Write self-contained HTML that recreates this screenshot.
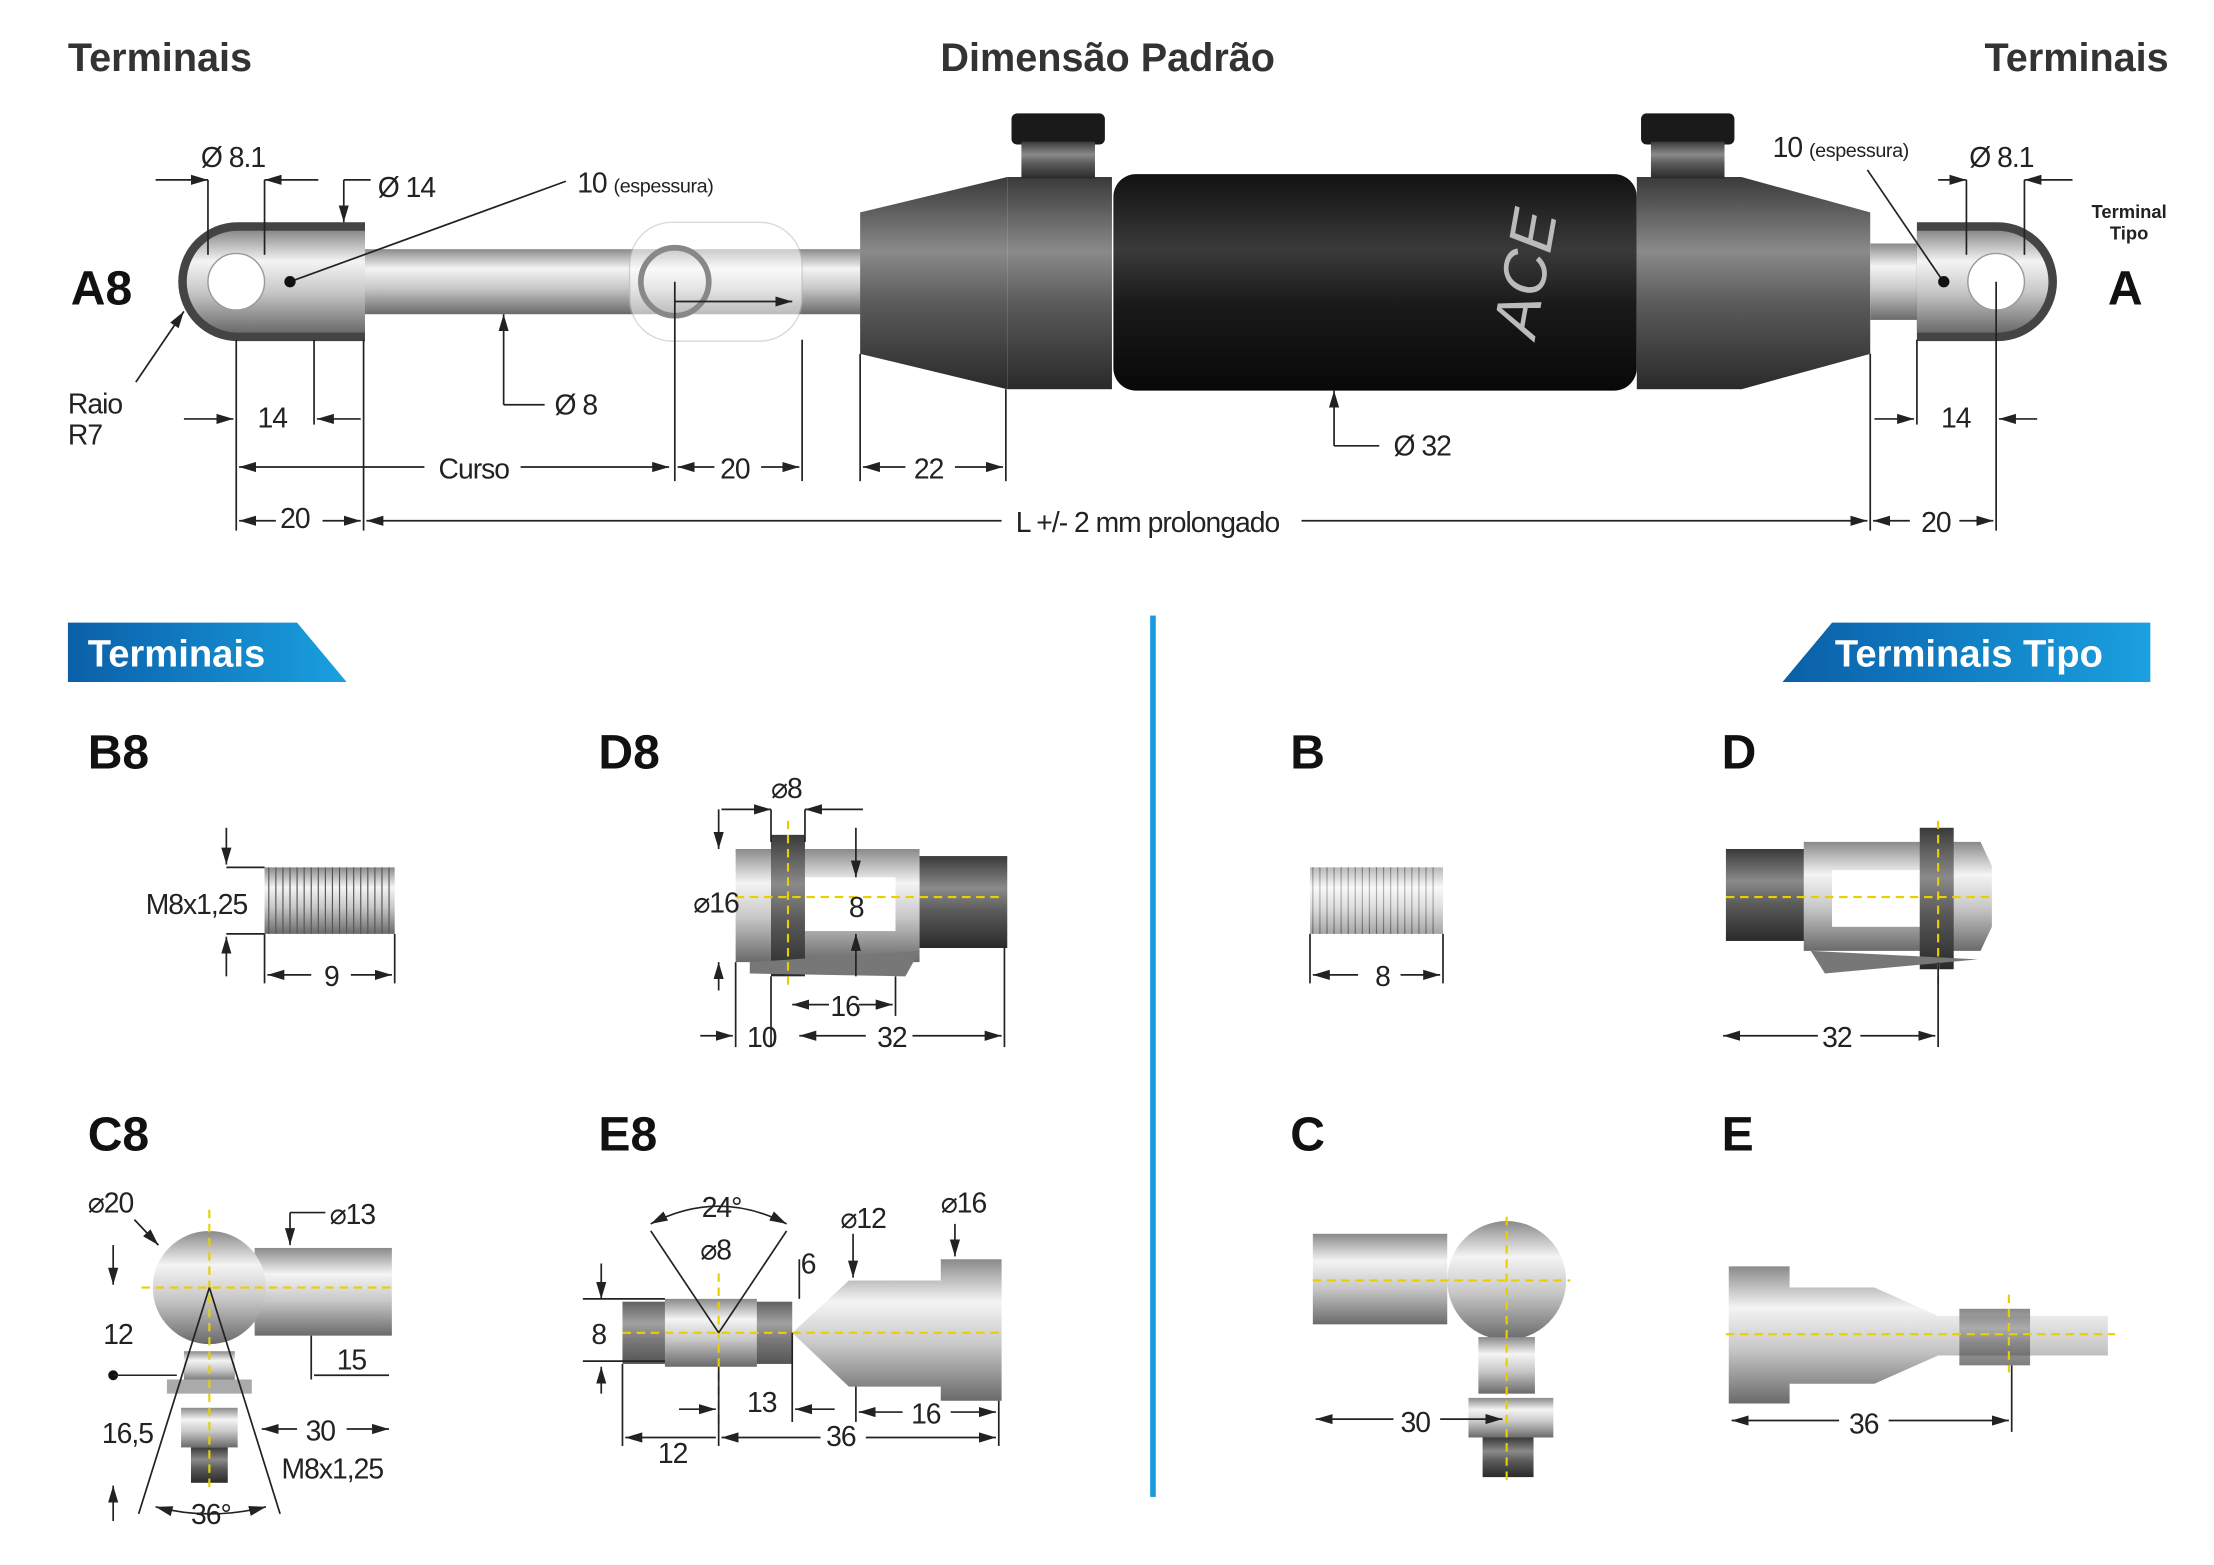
<!DOCTYPE html>
<html><head><meta charset="utf-8"><style>
html,body{margin:0;padding:0;background:#fff}
svg{display:block}
text{font-family:"Liberation Sans",sans-serif}
.n{font-size:20px;letter-spacing:-0.7px;fill:#222}
.s{font-size:14px;letter-spacing:-0.3px}
.h{font-weight:bold;font-size:28px;fill:#333}
.L{font-weight:bold;font-size:34px;fill:#111}
.d{stroke:#222;stroke-width:1.2;fill:none}
.y{stroke:#e8d000;stroke-width:1.5;stroke-dasharray:6 4;fill:none}
</style></head><body>
<svg width="2214" height="1565" viewBox="0 0 1565 1106" xmlns="http://www.w3.org/2000/svg">
<defs>
<linearGradient id="met" x1="0" y1="0" x2="0" y2="1">
<stop offset="0" stop-color="#8a8a8a"/><stop offset=".3" stop-color="#f4f4f4"/><stop offset=".6" stop-color="#c8c8c8"/><stop offset="1" stop-color="#6a6a6a"/></linearGradient>
<linearGradient id="dk" x1="0" y1="0" x2="0" y2="1">
<stop offset="0" stop-color="#3a3a3a"/><stop offset=".35" stop-color="#8a8a8a"/><stop offset=".6" stop-color="#5a5a5a"/><stop offset="1" stop-color="#2a2a2a"/></linearGradient>
<linearGradient id="blk" x1="0" y1="0" x2="0" y2="1">
<stop offset="0" stop-color="#111"/><stop offset=".35" stop-color="#3a3a3a"/><stop offset=".6" stop-color="#1a1a1a"/><stop offset="1" stop-color="#080808"/></linearGradient>
<linearGradient id="blue" x1="0" y1="0" x2="1" y2="0">
<stop offset="0" stop-color="#0a5fa8"/><stop offset="1" stop-color="#1aa0e0"/></linearGradient>
<marker id="a" markerWidth="10" markerHeight="8" refX="10" refY="4" orient="auto-start-reverse"><path d="M0,1 L10,4 L0,7z" fill="#222"/></marker>
</defs>

<text x="48" y="50" class="h">Terminais</text>
<text x="783" y="50" class="h" text-anchor="middle">Dimensão Padrão</text>
<text x="1533" y="50" class="h" text-anchor="end">Terminais</text>

<path d="M168,157 L258,157 L258,241 L168,241 A42,42 0 0 1 168,157z" fill="#444"/>
<path d="M168,163 L258,163 L258,235 L168,235 A36,36 0 0 1 168,163z" fill="url(#met)"/>
<circle cx="167" cy="199" r="20" fill="#fff" stroke="#999"/>
<rect x="258" y="176" width="352" height="46" fill="url(#met)"/>
<rect x="445" y="157" width="122" height="84" rx="30" fill="#fff" opacity=".55" stroke="#bbb"/>
<circle cx="477" cy="199" r="24" fill="none" stroke="#888" stroke-width="4"/>
<path d="M608,150 L712,125 L712,275 L608,250z" fill="url(#dk)"/>
<rect x="712" y="125" width="74" height="150" fill="url(#dk)"/>
<rect x="715" y="80" width="66" height="22" rx="4" fill="#1a1a1a"/>
<rect x="722" y="100" width="52" height="26" fill="url(#dk)"/>
<rect x="787" y="123" width="370" height="153" rx="16" fill="url(#blk)"/>
<text x="1085" y="240" font-size="44" fill="#bbb" font-style="italic" transform="rotate(-80 1085 240)">ACE</text>
<rect x="1157" y="125" width="74" height="150" fill="url(#dk)"/>
<rect x="1160" y="80" width="66" height="22" rx="4" fill="#1a1a1a"/>
<rect x="1167" y="100" width="52" height="26" fill="url(#dk)"/>
<path d="M1231,125 L1322,150 L1322,250 L1231,275z" fill="url(#dk)"/>
<rect x="1322" y="172" width="35" height="54" fill="url(#met)"/>
<path d="M1355,157 L1412,157 A42,42 0 0 1 1412,241 L1355,241z" fill="#444"/>
<path d="M1355,163 L1412,163 A36,36 0 0 1 1412,235 L1355,235z" fill="url(#met)"/>
<circle cx="1411" cy="199" r="20" fill="#fff" stroke="#999"/>
<text x="50" y="215" class="L">A8</text>
<text x="1490" y="215" class="L">A</text>
<text x="1505" y="154" font-size="13" font-weight="bold" text-anchor="middle" fill="#222">Terminal</text>
<text x="1505" y="169" font-size="13" font-weight="bold" text-anchor="middle" fill="#222">Tipo</text>

<g class="d">
<line x1="110" y1="127" x2="147" y2="127" marker-end="url(#a)"/><line x1="187" y1="127" x2="225" y2="127" marker-start="url(#a)"/>
<line x1="147" y1="127" x2="147" y2="180"/><line x1="187" y1="127" x2="187" y2="180"/>
<line x1="243" y1="127" x2="243" y2="157" marker-end="url(#a)"/><line x1="243" y1="127" x2="262" y2="127"/>
<line x1="205" y1="199" x2="400" y2="128"/>
<line x1="130" y1="220" x2="96" y2="270" marker-start="url(#a)"/>
<line x1="167" y1="240" x2="167" y2="375"/><line x1="222" y1="240" x2="222" y2="300"/><line x1="257" y1="240" x2="257" y2="375"/>
<line x1="130" y1="296" x2="165" y2="296" marker-end="url(#a)"/><line x1="224" y1="296" x2="255" y2="296" marker-start="url(#a)"/>
<line x1="356" y1="222" x2="356" y2="286" marker-start="url(#a)"/><line x1="356" y1="286" x2="385" y2="286"/>
<line x1="169" y1="330" x2="300" y2="330" marker-start="url(#a)"/><line x1="368" y1="330" x2="473" y2="330" marker-end="url(#a)"/>
<line x1="477" y1="199" x2="477" y2="340"/><line x1="567" y1="240" x2="567" y2="340"/>
<line x1="479" y1="330" x2="505" y2="330" marker-start="url(#a)"/><line x1="538" y1="330" x2="565" y2="330" marker-end="url(#a)"/>
<line x1="477" y1="213" x2="560" y2="213" marker-end="url(#a)"/>
<line x1="608" y1="250" x2="608" y2="340"/><line x1="711" y1="275" x2="711" y2="340"/>
<line x1="610" y1="330" x2="640" y2="330" marker-start="url(#a)"/><line x1="675" y1="330" x2="709" y2="330" marker-end="url(#a)"/>
<line x1="169" y1="368" x2="195" y2="368" marker-start="url(#a)"/><line x1="228" y1="368" x2="255" y2="368" marker-end="url(#a)"/>
<line x1="259" y1="368" x2="708" y2="368" marker-start="url(#a)"/><line x1="920" y1="368" x2="1320" y2="368" marker-end="url(#a)"/>
<line x1="1322" y1="250" x2="1322" y2="375"/><line x1="1411" y1="199" x2="1411" y2="375"/><line x1="1355" y1="240" x2="1355" y2="300"/>
<line x1="1324" y1="368" x2="1350" y2="368" marker-start="url(#a)"/><line x1="1385" y1="368" x2="1409" y2="368" marker-end="url(#a)"/>
<line x1="1325" y1="296" x2="1353" y2="296" marker-end="url(#a)"/><line x1="1413" y1="296" x2="1440" y2="296" marker-start="url(#a)"/>
<line x1="943" y1="276" x2="943" y2="315" marker-start="url(#a)"/><line x1="943" y1="315" x2="975" y2="315"/>
<line x1="1320" y1="120" x2="1373" y2="198"/>
<line x1="1390" y1="127" x2="1390" y2="180"/><line x1="1431" y1="127" x2="1431" y2="180"/>
<line x1="1370" y1="127" x2="1390" y2="127" marker-end="url(#a)"/><line x1="1431" y1="127" x2="1465" y2="127" marker-start="url(#a)"/>
</g>
<circle cx="205" cy="199" r="4" fill="#111"/><circle cx="1374" cy="199" r="4" fill="#111"/>
<g class="n">
<text x="142" y="118">Ø 8.1</text><text x="267" y="139">Ø 14</text>
<text x="408" y="136">10 <tspan class="s">(espessura)</tspan></text>
<text x="48" y="292">Raio</text><text x="48" y="314">R7</text>
<text x="182" y="302">14</text><text x="392" y="293">Ø 8</text>
<text x="310" y="338">Curso</text><text x="509" y="338">20</text><text x="646" y="338">22</text>
<text x="198" y="373">20</text><text x="718" y="376">L +/- 2 mm prolongado</text>
<text x="985" y="322">Ø 32</text>
<text x="1253" y="111">10 <tspan class="s">(espessura)</tspan></text><text x="1392" y="118">Ø 8.1</text>
<text x="1372" y="302">14</text><text x="1358" y="376">20</text>
</g>

<path d="M48,440 L210,440 L245,482 L48,482z" fill="url(#blue)"/>
<text x="62" y="471" font-size="27" font-weight="bold" fill="#fff">Terminais</text>
<path d="M1295,440 L1520,440 L1520,482 L1260,482z" fill="url(#blue)"/>
<text x="1297" y="471" font-size="27" font-weight="bold" fill="#fff">Terminais Tipo</text>
<rect x="813" y="435" width="4" height="623" fill="#1a9be0"/>

<g class="L" font-size="32">
<text x="62" y="543">B8</text><text x="423" y="543">D8</text><text x="912" y="543">B</text><text x="1217" y="543">D</text>
<text x="62" y="813">C8</text><text x="423" y="813">E8</text><text x="912" y="813">C</text><text x="1217" y="813">E</text>
</g>

<rect x="187" y="613" width="92" height="47" fill="url(#met)"/>
<g stroke="#555" stroke-width=".8">
<path d="M190,613v47M195,613v47M200,613v47M205,613v47M210,613v47M215,613v47M220,613v47M225,613v47M230,613v47M235,613v47M240,613v47M245,613v47M250,613v47M255,613v47M260,613v47M265,613v47M270,613v47M275,613v47"/>
<path d="M928,613v47M933,613v47M938,613v47M943,613v47M948,613v47M953,613v47M958,613v47M963,613v47M968,613v47M973,613v47M978,613v47M983,613v47M988,613v47M993,613v47M998,613v47M1003,613v47M1008,613v47M1013,613v47"/>
</g>
<rect x="926" y="613" width="94" height="47" fill="url(#met)" opacity=".6"/>
<g class="d">
<line x1="160" y1="585" x2="160" y2="611" marker-end="url(#a)"/><line x1="160" y1="613" x2="187" y2="613"/>
<line x1="160" y1="690" x2="160" y2="662" marker-end="url(#a)"/><line x1="160" y1="660" x2="187" y2="660"/>
<line x1="187" y1="660" x2="187" y2="695"/><line x1="279" y1="660" x2="279" y2="695"/>
<line x1="189" y1="689" x2="220" y2="689" marker-start="url(#a)"/><line x1="248" y1="689" x2="277" y2="689" marker-end="url(#a)"/>
<line x1="926" y1="660" x2="926" y2="695"/><line x1="1020" y1="660" x2="1020" y2="695"/>
<line x1="928" y1="689" x2="960" y2="689" marker-start="url(#a)"/><line x1="990" y1="689" x2="1018" y2="689" marker-end="url(#a)"/>
</g>
<g class="n"><text x="103" y="646">M8x1,25</text><text x="229" y="697">9</text><text x="972" y="697">8</text></g>

<path d="M520,600 L650,600 L650,680 L520,680z" fill="url(#met)"/>
<rect x="555" y="620" width="78" height="38" fill="#fff"/>
<rect x="545" y="590" width="24" height="100" fill="url(#dk)"/>
<rect x="650" y="605" width="62" height="65" fill="url(#dk)"/>
<path d="M530,680 L650,672 L640,690 L530,688z" fill="#777"/>
<path d="M520,634 H710" class="y"/><path d="M557,580 V700" class="y"/>
<g class="d">
<line x1="510" y1="572" x2="545" y2="572" marker-end="url(#a)"/><line x1="569" y1="572" x2="610" y2="572" marker-start="url(#a)"/>
<line x1="545" y1="572" x2="545" y2="595"/><line x1="569" y1="572" x2="569" y2="595"/>
<line x1="508" y1="572" x2="508" y2="600" marker-end="url(#a)"/><line x1="508" y1="700" x2="508" y2="680" marker-end="url(#a)"/>
<line x1="605" y1="585" x2="605" y2="620" marker-end="url(#a)"/><line x1="605" y1="690" x2="605" y2="660" marker-end="url(#a)"/>
<line x1="520" y1="680" x2="520" y2="740"/><line x1="545" y1="690" x2="545" y2="740"/><line x1="633" y1="690" x2="633" y2="718"/><line x1="710" y1="670" x2="710" y2="740"/>
<line x1="560" y1="710" x2="586" y2="710" marker-start="url(#a)"/><line x1="607" y1="710" x2="631" y2="710" marker-end="url(#a)"/>
<line x1="495" y1="732" x2="518" y2="732" marker-end="url(#a)"/><line x1="565" y1="732" x2="612" y2="732" marker-start="url(#a)"/><line x1="645" y1="732" x2="708" y2="732" marker-end="url(#a)"/>
</g>
<g class="n"><text x="545" y="564">⌀8</text><text x="490" y="645">⌀16</text><text x="600" y="648">8</text><text x="587" y="718">16</text><text x="528" y="740">10</text><text x="620" y="740">32</text></g>

<rect x="1220" y="600" width="60" height="65" fill="url(#dk)"/>
<path d="M1275,595 L1400,595 L1408,612 L1408,655 L1400,672 L1275,672z" fill="url(#met)"/>
<rect x="1295" y="615" width="80" height="40" fill="#fff"/>
<rect x="1357" y="585" width="24" height="100" fill="url(#dk)"/>
<path d="M1280,672 L1398,678 L1290,688z" fill="#777"/>
<path d="M1220,634 H1410" class="y"/><path d="M1370,580 V700" class="y"/>
<g class="d"><line x1="1370" y1="680" x2="1370" y2="740"/><line x1="1218" y1="732" x2="1285" y2="732" marker-start="url(#a)"/><line x1="1315" y1="732" x2="1368" y2="732" marker-end="url(#a)"/></g>
<text x="1288" y="740" class="n">32</text>

<rect x="180" y="882" width="97" height="62" fill="url(#met)"/>
<circle cx="148" cy="910" r="40" fill="url(#met)"/>
<rect x="130" y="955" width="36" height="22" fill="url(#met)"/>
<rect x="118" y="975" width="60" height="10" fill="#aaa"/>
<rect x="128" y="995" width="40" height="28" fill="url(#met)"/>
<rect x="135" y="1023" width="26" height="25" fill="url(#dk)"/>
<path d="M100,910 H280" class="y"/><path d="M148,855 V1055" class="y"/>
<g class="d">
<line x1="148" y1="910" x2="98" y2="1070"/><line x1="148" y1="910" x2="198" y2="1070"/>
<line x1="80" y1="880" x2="80" y2="908" marker-end="url(#a)"/><line x1="80" y1="1075" x2="80" y2="1050" marker-end="url(#a)"/>
<line x1="205" y1="857" x2="205" y2="880" marker-end="url(#a)"/><line x1="205" y1="857" x2="230" y2="857"/>
<line x1="220" y1="944" x2="220" y2="975"/><line x1="222" y1="972" x2="275" y2="972"/>
<line x1="95" y1="862" x2="112" y2="880" marker-end="url(#a)"/>
<line x1="185" y1="1010" x2="210" y2="1010" marker-start="url(#a)"/><line x1="245" y1="1010" x2="275" y2="1010" marker-end="url(#a)"/>
<path d="M110,1065 Q148,1075 188,1065" marker-start="url(#a)" marker-end="url(#a)"/>
</g>
<circle cx="80" cy="972" r="3.5" fill="#111"/><line x1="80" y1="972" x2="125" y2="972" stroke="#222"/>
<g class="n"><text x="62" y="857">⌀20</text><text x="233" y="865">⌀13</text><text x="73" y="950">12</text><text x="238" y="968">15</text><text x="72" y="1020">16,5</text><text x="216" y="1018">30</text><text x="199" y="1045">M8x1,25</text><text x="135" y="1077">36°</text></g>

<rect x="928" y="872" width="95" height="64" fill="url(#met)"/>
<circle cx="1065" cy="905" r="42" fill="url(#met)"/>
<rect x="1045" y="945" width="40" height="40" fill="url(#met)"/>
<rect x="1038" y="988" width="60" height="28" fill="url(#met)"/>
<rect x="1048" y="1016" width="36" height="28" fill="url(#dk)"/>
<path d="M928,905 H1110" class="y"/><path d="M1065,860 V1050" class="y"/>
<g class="d"><line x1="930" y1="1003" x2="985" y2="1003" marker-start="url(#a)"/><line x1="1018" y1="1003" x2="1062" y2="1003" marker-end="url(#a)"/></g>
<text x="990" y="1012" class="n">30</text>

<rect x="440" y="920" width="120" height="44" fill="url(#dk)" opacity=".8"/>
<rect x="470" y="918" width="65" height="48" fill="url(#met)"/>
<path d="M560,942 L600,905 L665,905 L665,890 L708,890 L708,990 L665,990 L665,980 L600,980z" fill="url(#met)"/>
<path d="M440,942 H710" class="y"/><path d="M508,900 V1010" class="y"/>
<g class="d">
<line x1="508" y1="942" x2="460" y2="870"/><line x1="508" y1="942" x2="556" y2="870"/>
<path d="M460,865 Q508,840 556,865" marker-start="url(#a)" marker-end="url(#a)"/>
<line x1="425" y1="893" x2="425" y2="918" marker-end="url(#a)"/><line x1="425" y1="985" x2="425" y2="966" marker-end="url(#a)"/>
<line x1="412" y1="918" x2="470" y2="918"/><line x1="412" y1="962" x2="470" y2="962"/>
<line x1="603" y1="872" x2="603" y2="903" marker-end="url(#a)"/><line x1="675" y1="865" x2="675" y2="888" marker-end="url(#a)"/>
<line x1="440" y1="964" x2="440" y2="1022"/><line x1="508" y1="966" x2="508" y2="1022"/><line x1="560" y1="942" x2="560" y2="1005"/><line x1="605" y1="980" x2="605" y2="1005"/><line x1="706" y1="990" x2="706" y2="1022"/>
<line x1="480" y1="996" x2="506" y2="996" marker-end="url(#a)"/><line x1="562" y1="996" x2="590" y2="996" marker-start="url(#a)"/>
<line x1="442" y1="1016" x2="506" y2="1016" marker-start="url(#a)"/><line x1="510" y1="1016" x2="580" y2="1016" marker-start="url(#a)"/><line x1="612" y1="1016" x2="704" y2="1016" marker-end="url(#a)"/>
<line x1="607" y1="998" x2="638" y2="998" marker-start="url(#a)"/><line x1="672" y1="998" x2="704" y2="998" marker-end="url(#a)"/>
<line x1="565" y1="890" x2="565" y2="918"/>
</g>
<g class="n"><text x="496" y="860">24°</text><text x="495" y="890">⌀8</text><text x="566" y="900">6</text><text x="594" y="868">⌀12</text><text x="665" y="857">⌀16</text><text x="418" y="950">8</text><text x="528" y="998">13</text><text x="465" y="1034">12</text><text x="584" y="1022">36</text><text x="644" y="1006">16</text></g>

<path d="M1222,895 L1265,895 L1265,910 L1325,910 L1370,930 L1490,930 L1490,958 L1370,958 L1325,978 L1265,978 L1265,992 L1222,992z" fill="url(#met)"/>
<rect x="1385" y="925" width="50" height="40" fill="url(#dk)" opacity=".6"/>
<path d="M1220,943 H1495" class="y"/><path d="M1420,915 V970" class="y"/>
<g class="d"><line x1="1422" y1="965" x2="1422" y2="1012"/><line x1="1224" y1="1004" x2="1300" y2="1004" marker-start="url(#a)"/><line x1="1335" y1="1004" x2="1420" y2="1004" marker-end="url(#a)"/></g>
<text x="1307" y="1013" class="n">36</text>
</svg>
</body></html>
